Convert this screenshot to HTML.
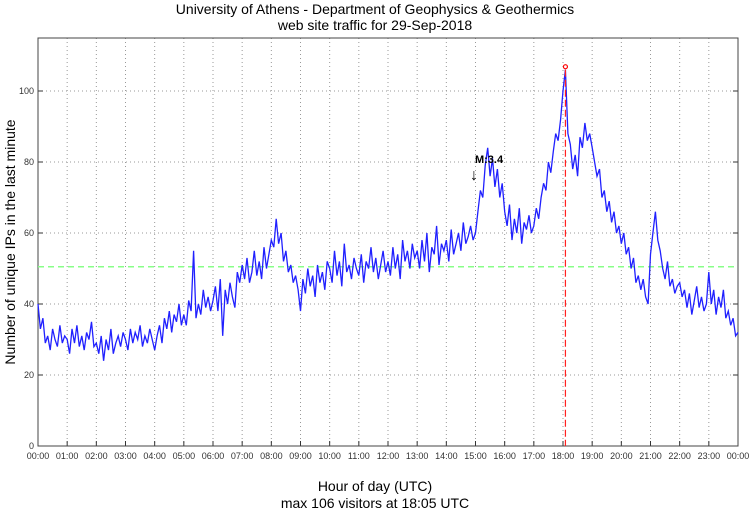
<!DOCTYPE html>
<html><head><meta charset="utf-8"><style>
body{margin:0;background:#fff;}
svg{display:block;font-family:"Liberation Sans",sans-serif;}
</style></head><body>
<svg id="chart" width="750" height="511">
<text x="375" y="14" text-anchor="middle" font-size="14">University of Athens - Department of Geophysics &amp; Geothermics</text>
<text x="375" y="30" text-anchor="middle" font-size="14">web site traffic for 29-Sep-2018</text>
<text x="375" y="491" text-anchor="middle" font-size="14">Hour of day (UTC)</text>
<text x="375" y="508" text-anchor="middle" font-size="14">max 106 visitors at 18:05 UTC</text>
<text transform="translate(15,242) rotate(-90)" text-anchor="middle" font-size="14">Number of unique IPs in the last minute</text>
<g id="grid"></g><g id="axes"></g><g id="marks"></g>
</svg>
<script>
const xTickLabels=["00:00","01:00","02:00","03:00","04:00","05:00","06:00","07:00","08:00","09:00","10:00","11:00","12:00","13:00","14:00","15:00","16:00","17:00","18:00","19:00","20:00","21:00","22:00","23:00","00:00"];
const yTicks=[0,20,40,60,80,100];
const averageLevel=50.5;
const maxMinute=1085, maxValue=106;
const eventMinute=901, eventLabel="M:3.4";
// visitors every 5 minutes
const visitors=[
40,33,36,29,31,27,33,30,28,34,29,31,
30,26,33,29,34,28,31,27,32,30,35,28,
29,26,31,24,30,27,33,26,29,31,28,32,
30,27,33,29,32,30,34,28,31,29,33,30,
27,31,34,29,36,33,38,32,37,35,40,34,
37,34,41,38,55,36,40,37,44,39,42,38,
41,45,38,47,31,44,40,46,42,39,49,46,
51,47,53,46,49,55,48,52,47,56,50,54,
58,56,64,57,60,52,55,49,51,46,48,44,
38,47,43,50,45,48,42,51,46,49,44,52,
50,46,55,48,52,45,57,49,51,47,53,50,
48,54,46,52,50,56,49,53,47,51,55,49,
52,48,56,50,54,47,58,52,55,50,57,53,
55,50,58,52,60,49,56,54,62,51,57,55,
58,52,61,54,57,60,55,63,57,59,62,58,
60,66,72,70,79,84,76,81,73,78,70,74,
66,62,68,58,64,60,67,57,63,61,65,60,
62,67,64,70,74,72,80,77,83,88,86,92,
100,106,88,85,78,82,76,87,84,91,86,88,
84,80,76,78,70,72,66,69,63,66,60,62,
57,60,54,56,50,53,46,48,44,47,42,40,
54,60,66,58,55,50,47,52,45,47,43,45,
46,42,44,39,43,37,41,45,39,42,38,40,
49,40,44,37,42,39,44,36,38,34,36,31,
32];
const L=38,R=738,T=38,B=446;
const X=m=>L+m/1440*(R-L);
const Y=v=>B-v*3.55;
const NS="http://www.w3.org/2000/svg";
function mk(p,tag,a){const e=document.createElementNS(NS,tag);for(const k in a)e.setAttribute(k,a[k]);document.getElementById(p).appendChild(e);return e;}
xTickLabels.forEach((t,i)=>{const x=X(i*60);
 if(i>0&&i<24){const g=mk('grid','line',{x1:x,x2:x,y1:T,y2:B,stroke:'#999','stroke-dasharray':'1,3'});
 
 }
 const tk=mk('axes','line',{x1:x,x2:x,y1:B,y2:B-5,stroke:'#333'});
 
 
 const lb=mk('axes','text',{x:x,y:B+13,'text-anchor':'middle','font-size':'9',fill:'#333'});lb.textContent=t;
 
 
});
yTicks.forEach(v=>{const y=Y(v);
 if(v>0){const g=mk('grid','line',{x1:L,x2:R,y1:y,y2:y,stroke:'#999','stroke-dasharray':'1,3'});
 
 }
 const tk=mk('axes','path',{d:`M${L},${y}h5M${R},${y}h-5`,stroke:'#333'});
 
 
 const lb=mk('axes','text',{x:L-4,y:y+3,'text-anchor':'end','font-size':'9',fill:'#333'});lb.textContent=v;
 
 
});
const fr=mk('axes','rect',{x:L,y:T,width:R-L,height:B-T,fill:'none',stroke:'#444'});


const av=mk('marks','line',{x1:L,x2:R,y1:Y(averageLevel),y2:Y(averageLevel),stroke:'#8f8','stroke-width':1.5,'stroke-dasharray':'6,4'});


const d=visitors.map((v,i)=>(i?'L':'M')+X(i*5).toFixed(1)+','+Y(v).toFixed(1)).join('');
const ln=mk('marks','path',{d:d,fill:'none',stroke:'#2020ff','stroke-width':1.3});


const mx=mk('marks','line',{x1:X(maxMinute),x2:X(maxMinute),y1:Y(maxValue),y2:B,stroke:'#ff2020','stroke-width':1.2,'stroke-dasharray':'7,3'});


const mc=mk('marks','circle',{cx:X(maxMinute),cy:Y(maxValue)-3,r:2,fill:'none',stroke:'#f00','stroke-width':1.2});


const ev=mk('marks','text',{x:X(eventMinute)-1,y:163,'font-size':'11','font-weight':'bold'});ev.textContent=eventLabel;


const ar=mk('marks','text',{x:X(eventMinute)-6,y:180,'font-size':'16'});ar.textContent='↓';


</script>
</body></html>
